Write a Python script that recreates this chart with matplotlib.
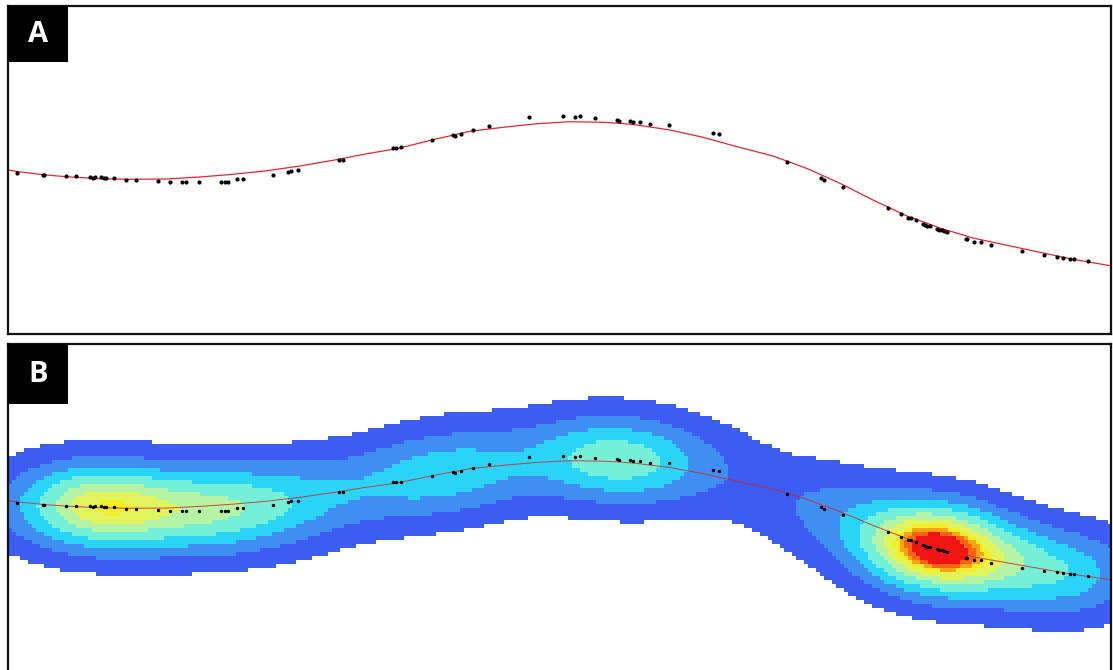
import numpy as np
import matplotlib.pyplot as plt
import matplotlib.patches as patches
from matplotlib.colors import ListedColormap, BoundaryNorm

pts_x = [17, 43, 44, 66, 76, 90, 93, 95, 101, 104, 106, 114, 126, 136, 158, 170, 182, 186, 199,
         221, 225, 228, 237, 243, 273, 288, 291, 298, 339, 343,
         393, 396, 401, 432, 453, 455, 461, 473, 489, 529, 563, 575, 580, 595, 617, 619, 630,
         633, 640, 650, 669, 713, 719,
         787, 821, 824, 843, 888, 901, 908, 911, 916, 923, 925, 927, 930, 937, 939, 942, 944,
         947, 966, 967, 974, 981, 991, 1022, 1044, 1057, 1063, 1070, 1074, 1088, 1112]
pts_y = [167, 165, 165, 164, 164, 163, 162, 163, 163, 162, 162, 162, 160, 160, 159, 158, 158, 158, 158,
         158, 158, 158, 161, 161, 165, 168, 169, 170, 180, 180,
         192, 192, 193, 200, 205, 204, 206, 210, 214, 223, 224, 223, 224, 222, 220, 219, 219,
         218, 218, 216, 215, 207, 206,
         178, 162, 160, 153, 132, 126, 122, 122, 120, 116, 115, 114, 114, 111, 110, 110, 109,
         108, 101, 101, 98, 98, 95, 89, 85, 83, 82, 81, 81, 79, 75]

# fitted trend line
curve_x = [8, 17, 43, 66, 100, 130, 167, 200, 233, 267, 300, 333, 367, 397, 433, 470, 503, 537,
           570, 603, 620, 637, 670, 703, 737, 773, 807, 840, 873, 907, 940, 973, 1007, 1040,
           1073, 1112]
curve_y = [170, 168.5, 165.3, 163.3, 161.3, 160.7, 161, 163, 165.7, 169.3, 174, 179.7, 186.3,
           191.3, 200.3, 208.7, 212.7, 216.3, 218.3, 217.7, 216.7, 215, 210, 202.7, 193.3,
           184, 171.5, 156.7, 140, 124, 112, 102, 94.7, 87.7, 80.7, 74]

# density classes (fraction of the peak) and their colours
level_bounds = [0, 0.10, 0.24, 0.37, 0.49, 0.61, 0.70, 0.78, 0.83, 0.87, 0.91, 1.01]
level_colors = ['#ffffff', '#3d5cf2', '#3f8ef2', '#2ad4f7', '#74f0d8', '#b4f4a4',
                '#e2f45c', '#f2ee2a', '#f9a414', '#f86414', '#f01414']

W, H = 1113, 670
fig = plt.figure(figsize=(W / 100, H / 100), dpi=100)


def box(l, t, r, b):
    return [l / W, 1 - b / H, (r - l) / W, (b - t) / H]


axA = fig.add_axes(box(8, 6, 1111, 334))
axB = fig.add_axes(box(8, 344, 1111, 672))

for ax in (axA, axB):
    ax.set_xticks([])
    ax.set_yticks([])
    for s in ax.spines.values():
        s.set_linewidth(1.6)
        s.set_color('#111111')
axB.spines['bottom'].set_visible(False)

axA.set_xlim(8, 1111)
axA.set_ylim(6, 334)
axB.set_xlim(8, 1111)
axB.set_ylim(-37.5, 359.6)

# Panel A
axA.plot(curve_x, curve_y, color='#e8242c', lw=0.9, zorder=2)
axA.scatter(pts_x, pts_y, s=9, color='black', zorder=3, linewidths=0)

# Panel B: kernel density of the points on a coarse grid
px = np.array(pts_x, float)
py = np.array(pts_y, float)
xe = np.arange(8, 1116, 4.0)
ye = np.arange(-37.5, 364, 4.84)
xc = (xe[:-1] + xe[1:]) / 2
yc = (ye[:-1] + ye[1:]) / 2
sx, sy = 50.0, 40.0
gx = np.exp(-0.5 * ((xc[None, :] - px[:, None]) / sx) ** 2)
gy = np.exp(-0.5 * ((yc[None, :] - py[:, None]) / sy) ** 2)
dens = gy.T @ gx
dens = dens / dens.max()

cmap = ListedColormap(level_colors)
norm = BoundaryNorm(level_bounds, cmap.N)
axB.pcolormesh(xe, ye, dens, cmap=cmap, norm=norm, shading='flat', zorder=1)
axB.plot(curve_x, curve_y, color='#d02828', lw=0.7, alpha=0.85, zorder=2)
axB.scatter(pts_x, pts_y, s=6, color='black', zorder=3, linewidths=0)

# panel letters
for label, (l, t, r, b) in [('A', (8, 6, 68, 62)), ('B', (8, 344, 68, 404))]:
    fig.add_artist(patches.Rectangle((l / W, 1 - b / H), (r - l) / W, (b - t) / H,
                                     transform=fig.transFigure, facecolor='black',
                                     edgecolor='none', zorder=5))
    fig.text((l + r) / 2 / W, 1 - (t + b) / 2 / H, label, color='white', fontsize=21,
             fontweight='bold', family='Open Sans', ha='center', va='center', zorder=6)

fig.savefig('out.png', dpi=100)
